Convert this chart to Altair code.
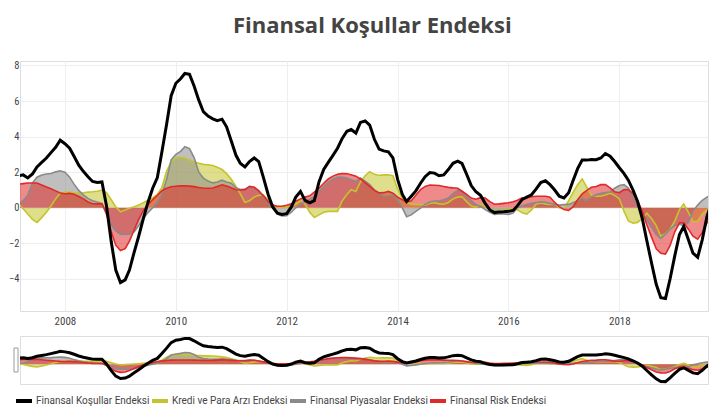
import altair as alt
import pandas as pd

months = pd.date_range("2007-03-01", periods=151, freq="MS").strftime("%Y-%m-%d").tolist()

names = ["Finansal Koşullar Endeksi", "Kredi ve Para Arzı Endeksi",
         "Finansal Piyasalar Endeksi", "Finansal Risk Endeksi"]
colors = ["#000000", "#c4c42c", "#8a8a8a", "#e02a2a"]

fke = [1.8, 1.85, 1.68, 1.9, 2.3, 2.55, 2.8, 3.1, 3.4, 3.8,
       3.6, 3.35, 2.9, 2.4, 2.05, 1.75, 1.48, 1.42, 1.45, 0.1,
       -1.9, -3.5, -4.2, -4.05, -3.5, -2.5, -1.6, -0.6, 0.3, 1.1,
       1.7, 3.15, 4.7, 6.3, 7.0, 7.25, 7.55, 7.5, 6.85, 6.05,
       5.4, 5.15, 5.0, 4.9, 4.98, 4.55, 3.75, 2.95, 2.5, 2.3,
       2.6, 2.8, 2.6, 1.7, 0.75, 0.05, -0.3, -0.37, -0.33, 0.05,
       0.6, 0.92, 0.42, 0.28, 0.4, 1.45, 2.15, 2.55, 2.95, 3.35,
       3.9, 4.3, 4.4, 4.2, 4.8, 4.88, 4.65, 3.85, 3.3, 3.2,
       3.15, 2.8, 1.6, 0.75, 0.35, 0.65, 0.95, 1.38, 1.75, 1.98,
       1.95, 1.8, 1.85, 2.15, 2.5, 2.62, 2.5, 1.88, 1.25, 0.9,
       0.7, 0.25, -0.12, -0.27, -0.23, -0.22, -0.2, -0.15, 0.12, 0.47,
       0.6, 0.73, 1.05, 1.42, 1.52, 1.3, 1.0, 0.65, 0.55, 0.85,
       1.5, 2.2, 2.68, 2.68, 2.72, 2.7, 2.8, 3.05, 2.9, 2.6,
       2.25, 1.92, 1.55, 1.0, 0.35, -0.6, -1.85, -3.1, -4.3, -5.05,
       -5.1, -4.0, -2.7, -1.5, -1.05, -1.8, -2.55, -2.78, -1.8, -0.5, 0.3]

kpa = [0.22, -0.05, -0.35, -0.65, -0.82, -0.55, -0.25, 0.1, 0.5, 0.83,
       0.87, 0.89, 0.85, 0.83, 0.85, 0.88, 0.9, 0.93, 1.0, 0.85,
       0.45, 0.05, -0.22, -0.12, -0.02, 0.06, 0.15, 0.29, 0.42, 0.55,
       0.75, 1.15, 2.05, 2.58, 2.8, 2.83, 2.8, 2.69, 2.58, 2.5,
       2.44, 2.42, 2.38, 2.28, 2.15, 1.92, 1.6, 1.2, 0.8, 0.3,
       0.4, 0.6, 0.7, 0.72, 0.45, 0.18, 0.05, 0.0, 0.05, 0.12,
       0.2, 0.4, 0.2, -0.25, -0.55, -0.4, -0.25, -0.2, -0.2, -0.2,
       0.4, 0.75, 1.02, 0.92, 1.45, 1.8, 2.03, 1.88, 1.82, 1.85,
       1.86, 1.8, 1.05, 0.55, 0.3, 0.2, 0.19, 0.18, 0.15, 0.25,
       0.28, 0.22, 0.2, 0.3, 0.5, 0.6, 0.62, 0.35, 0.1, 0.03,
       0.19, 0.1, -0.1, -0.19, -0.22, -0.15, -0.08, -0.05, -0.12, -0.28,
       -0.35, -0.12, 0.2, 0.27, 0.22, 0.19, 0.19, 0.0, -0.05, 0.4,
       0.85, 1.3, 1.62, 1.15, 0.7, 0.65, 0.65, 0.72, 0.82, 0.7,
       0.5, -0.2, -0.74, -0.87, -0.82, -0.6, -0.3, -0.6, -1.0, -1.6,
       -1.45, -1.2, -0.75, -0.1, 0.22, -0.25, -0.78, -0.75, -0.35, -0.12, 0.0]

fpe = [0.28, 0.4, 0.7, 1.4, 1.72, 1.84, 1.9, 1.93, 2.02, 2.08,
       2.0, 1.72, 1.33, 0.98, 0.73, 0.53, 0.4, 0.32, 0.25, -0.37,
       -0.95, -1.3, -1.48, -1.5, -1.48, -1.35, -1.0, -0.6, -0.27, 0.0,
       0.3, 0.75, 1.6, 2.7, 3.0, 3.17, 3.43, 3.33, 2.82, 2.0,
       1.67, 1.5, 1.4, 1.45, 1.55, 1.45, 1.38, 1.12, 1.03, 1.05,
       1.15, 1.15, 0.95, 0.6, 0.25, 0.0, -0.35, -0.46, -0.45, -0.25,
       0.0, 0.2, 0.35, 0.48, 0.62, 0.92, 1.2, 1.45, 1.6, 1.73,
       1.72, 1.68, 1.57, 1.48, 1.68, 1.5, 1.3, 1.0, 0.82, 0.65,
       0.68, 0.72, 0.45, 0.0, -0.5, -0.4, -0.2, -0.02, 0.19, 0.33,
       0.38, 0.4, 0.45, 0.55, 0.8, 1.0, 0.95, 0.65, 0.4, 0.18,
       0.09, -0.1, -0.25, -0.37, -0.34, -0.35, -0.37, -0.3, 0.0, 0.12,
       0.19, 0.26, 0.3, 0.33, 0.31, 0.25, 0.18, 0.15, 0.18, 0.19,
       0.28, 0.4, 0.53, 0.4, 0.6, 0.75, 0.82, 0.86, 0.89, 1.1,
       1.25, 1.3, 1.11, 0.6, 0.1, -0.3, -0.7, -1.1, -1.5, -1.72,
       -1.48, -1.2, -1.0, -0.93, -1.0, -0.82, -0.2, 0.15, 0.42, 0.6, 0.72]

fre = [1.33, 1.36, 1.39, 1.39, 1.39, 1.28, 1.17, 1.07, 0.95, 0.83,
       0.79, 0.81, 0.76, 0.63, 0.5, 0.33, 0.23, 0.22, 0.22, -0.3,
       -1.35, -2.1, -2.4, -2.3, -1.87, -1.25, -0.65, -0.15, 0.18, 0.45,
       0.7, 0.96, 1.1, 1.18, 1.21, 1.23, 1.24, 1.22, 1.19, 1.14,
       1.11, 1.1, 1.11, 1.2, 1.29, 1.22, 1.12, 1.01, 1.0, 1.02,
       1.2, 1.15, 0.95, 0.68, 0.35, 0.15, 0.09, 0.09, 0.14, 0.22,
       0.37, 0.5, 0.6, 0.67, 0.88, 1.1, 1.38, 1.62, 1.78, 1.88,
       1.93, 1.91, 1.86, 1.78, 1.62, 1.42, 1.2, 0.98, 0.84, 0.85,
       0.92, 0.82, 0.6, 0.45, 0.32, 0.4, 0.7, 1.02, 1.2, 1.28,
       1.27, 1.25, 1.2, 1.15, 1.12, 1.1, 0.93, 0.75, 0.55, 0.48,
       0.57, 0.55, 0.35, 0.2, 0.22, 0.25, 0.28, 0.34, 0.42, 0.56,
       0.58, 0.62, 0.65, 0.65, 0.65, 0.6, 0.3, 0.07, -0.1, -0.15,
       0.05, 0.45, 0.78, 0.98, 1.15, 1.2, 1.3, 1.3, 1.12, 0.9,
       0.85, 1.02, 1.02, 0.8, 0.4, -0.2, -0.95, -1.65, -2.3, -2.55,
       -2.6, -2.13, -1.35, -0.85, -0.85, -1.2, -1.6, -1.76, -1.4, -0.85, -0.6]

series_values = [fke, kpa, fpe, fre]
rows = []
for name, vals in zip(names, series_values):
    for d, v in zip(months, vals):
        rows.append({"date": d, "series": name, "value": v})
df = pd.DataFrame(rows)

FONT = "'Liberation Sans Narrow', 'Noto Sans Condensed', 'Roboto Condensed', Roboto"
xdomain = [alt.DateTime(year=2007, month=3, date=11, utc=True),
           alt.DateTime(year=2019, month=8, date=8, utc=True)]
year_ticks = [alt.DateTime(year=y, month=1, date=1, utc=True) for y in range(2008, 2020, 2)]
ydomain = [-5.8, 8.25]

color_scale = alt.Scale(domain=names, range=colors)
legend = alt.Legend(orient="none", legendX=-2, legendY=334, direction="horizontal",
                    title=None, symbolType="M-2,0H2", symbolSize=64,
                    symbolStrokeWidth=4, symbolOpacity=1, labelFont="Roboto",
                    labelFontSize=10, labelColor="#444", labelOffset=6,
                    columnPadding=-6)


def build(main, w, h):
    if main:
        xax = alt.Axis(values=year_ticks, format="%Y", grid=True, gridColor="#eeeeee",
                       domain=False, ticks=False, labelFont=FONT, labelFontSize=11,
                       labelColor="#444", labelPadding=4, labelFlush=False)
        yax = alt.Axis(values=[-4, -2, 0, 2, 4, 6, 8], grid=True, gridColor="#eeeeee",
                       domain=False, ticks=False, labelFont=FONT, labelFontSize=10.5,
                       labelColor="#444", labelPadding=1)
    else:
        xax = None
        yax = None
    x = alt.X("date:T", scale=alt.Scale(domain=xdomain), axis=xax, title=None)
    y = alt.Y("value:Q", scale=alt.Scale(domain=ydomain, nice=False, zero=False),
              axis=yax, title=None, stack=None)
    base = alt.Chart(df)
    layers = []
    # empty first layer that carries the legend (draws nothing)
    layers.append(
        base.transform_filter("false")
        .mark_line(strokeWidth=3)
        .encode(x=x, y=y, color=alt.Color("series:N", scale=color_scale,
                                          legend=legend if main else None))
    )
    # fills
    for name in names[1:]:
        layers.append(
            base.transform_filter(alt.datum.series == name)
            .mark_area(fillOpacity=0.55, strokeWidth=0, clip=True)
            .encode(x=x, y=y, y2=alt.datum(0),
                    color=alt.Color("series:N", scale=color_scale, legend=None))
        )
    # outlines
    for name in names[1:]:
        layers.append(
            base.transform_filter(alt.datum.series == name)
            .mark_line(strokeWidth=1.6, clip=True)
            .encode(x=x, y=y, color=alt.Color("series:N", scale=color_scale, legend=None))
        )
    layers.append(
        base.transform_filter(alt.datum.series == names[0])
        .mark_line(strokeWidth=3, clip=True)
        .encode(x=x, y=y, color=alt.Color("series:N", scale=color_scale, legend=None))
    )
    if not main:
        layers.append(
            alt.Chart(pd.DataFrame({"k": [0]}))
            .mark_rect(fill="white", stroke="#9a9a9a", strokeWidth=1)
            .encode(x=alt.value(-6), x2=alt.value(-2), y=alt.value(12), y2=alt.value(36))
        )
    return alt.layer(*layers).properties(width=w, height=h)


main_chart = build(True, 688, 250)
mini_chart = build(False, 688, 48)

chart = alt.vconcat(main_chart, mini_chart, spacing=25, bounds="flush").properties(
    title=alt.TitleParams("Finansal Koşullar Endeksi", font="Open Sans", fontSize=22,
                          fontWeight="bold", color="#444", anchor="middle", dx=14, offset=22),
    padding={"left": 0, "top": 6, "right": 0, "bottom": 0},
).configure_view(stroke="transparent", strokeWidth=0).configure(background="white")

chart.save("out.html", embed_options={"renderer": "svg", "actions": False})
